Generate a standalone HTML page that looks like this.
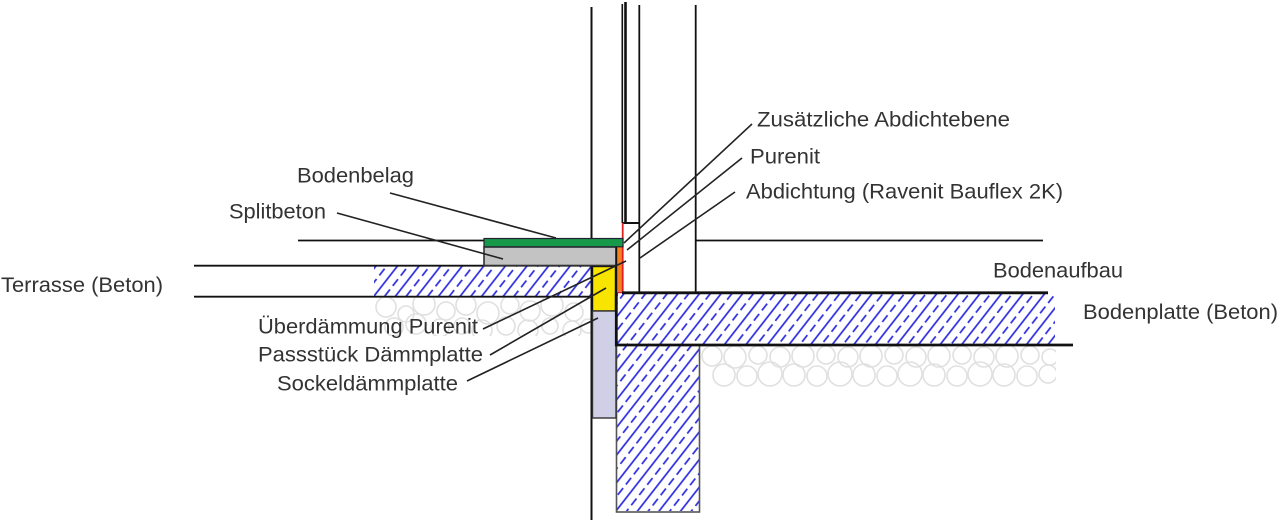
<!DOCTYPE html>
<html><head><meta charset="utf-8">
<style>
html,body{margin:0;padding:0;background:#fff;}
svg{display:block;}
text{font-family:"Liberation Sans",Arial,sans-serif;font-size:21.5px;fill:#333;}
</style></head><body>
<svg width="1280" height="522" viewBox="0 0 1280 522" xmlns="http://www.w3.org/2000/svg">
<defs>
<pattern id="h" patternUnits="userSpaceOnUse" width="17" height="13" patternTransform="rotate(38)">
<line x1="1" y1="-1" x2="1" y2="14" stroke="#2a2ae0" stroke-width="1.7"/>
<line x1="9.5" y1="1" x2="9.5" y2="9.5" stroke="#2a2ae0" stroke-width="1.7"/>
</pattern>
<clipPath id="g1"><rect x="372" y="298" width="219" height="38"/></clipPath>
<clipPath id="g2"><rect x="701" y="346" width="355" height="46"/></clipPath>
</defs>

<!-- gravel under terrace -->
<g clip-path="url(#g1)" fill="none" stroke="#e0e0e0" stroke-width="1.6">
<circle cx="386" cy="307" r="10"/><circle cx="406" cy="314" r="8"/><circle cx="424" cy="304" r="11"/>
<circle cx="446" cy="311" r="9"/><circle cx="466" cy="305" r="10"/><circle cx="488" cy="313" r="11"/>
<circle cx="510" cy="305" r="9"/><circle cx="530" cy="311" r="10"/><circle cx="552" cy="305" r="11"/>
<circle cx="574" cy="312" r="9"/><circle cx="394" cy="327" r="9"/><circle cx="416" cy="324" r="10"/>
<circle cx="440" cy="328" r="9"/><circle cx="462" cy="326" r="8"/><circle cx="482" cy="330" r="10"/>
<circle cx="506" cy="326" r="9"/><circle cx="528" cy="330" r="10"/><circle cx="550" cy="326" r="8"/>
<circle cx="572" cy="330" r="9"/><circle cx="588" cy="326" r="7"/>
</g>
<!-- gravel under slab -->
<g clip-path="url(#g2)" fill="none" stroke="#e0e0e0" stroke-width="1.6">
<circle cx="712" cy="356" r="10"/><circle cx="735" cy="357" r="11"/><circle cx="758" cy="355" r="9"/>
<circle cx="780" cy="357" r="10"/><circle cx="803" cy="356" r="11"/><circle cx="826" cy="355" r="9"/>
<circle cx="848" cy="357" r="10"/><circle cx="871" cy="356" r="11"/><circle cx="894" cy="355" r="9"/>
<circle cx="916" cy="357" r="10"/><circle cx="939" cy="356" r="11"/><circle cx="962" cy="355" r="9"/>
<circle cx="984" cy="357" r="10"/><circle cx="1007" cy="356" r="11"/><circle cx="1030" cy="355" r="9"/>
<circle cx="1050" cy="357" r="8"/>
<circle cx="724" cy="375" r="11"/><circle cx="747" cy="376" r="10"/><circle cx="770" cy="374" r="12"/>
<circle cx="794" cy="375" r="11"/><circle cx="817" cy="376" r="10"/><circle cx="840" cy="374" r="12"/>
<circle cx="864" cy="375" r="11"/><circle cx="887" cy="376" r="10"/><circle cx="910" cy="374" r="12"/>
<circle cx="934" cy="375" r="11"/><circle cx="957" cy="376" r="10"/><circle cx="980" cy="374" r="12"/>
<circle cx="1004" cy="375" r="11"/><circle cx="1027" cy="376" r="10"/><circle cx="1048" cy="374" r="9"/>
</g>

<!-- hatched concrete -->
<rect x="374" y="266" width="217" height="30" fill="url(#h)"/>
<rect x="617" y="294" width="438" height="50" fill="url(#h)"/>
<rect x="617" y="346" width="82" height="165" fill="url(#h)"/>

<!-- foundation outline -->
<rect x="616.5" y="345" width="83" height="167" fill="none" stroke="#555" stroke-width="1.6"/>

<!-- vertical wall lines -->
<line x1="591.5" y1="7" x2="591.5" y2="520" stroke="#111" stroke-width="2"/>
<line x1="622.3" y1="4" x2="622.3" y2="223" stroke="#111" stroke-width="1.6"/>
<line x1="625.5" y1="2" x2="625.5" y2="223" stroke="#111" stroke-width="2.6"/>
<line x1="639.3" y1="5" x2="639.3" y2="293" stroke="#111" stroke-width="1.8"/>
<line x1="695.7" y1="5" x2="695.7" y2="293" stroke="#111" stroke-width="1.8"/>
<line x1="622" y1="223" x2="640" y2="223" stroke="#111" stroke-width="2"/>

<!-- horizontal lines -->
<line x1="298" y1="240.5" x2="485" y2="240.5" stroke="#111" stroke-width="1.8"/>
<line x1="695" y1="240.5" x2="1043" y2="240.5" stroke="#111" stroke-width="1.8"/>
<line x1="194" y1="265.7" x2="592" y2="265.7" stroke="#111" stroke-width="1.8"/>
<line x1="194" y1="296.7" x2="592" y2="296.7" stroke="#111" stroke-width="1.8"/>

<!-- insulation pieces -->
<rect x="592.5" y="266.5" width="23" height="44.5" fill="#f7e400" stroke="#111" stroke-width="1.4"/>
<rect x="592.5" y="311" width="23.5" height="107" fill="#cfcfe6" stroke="#333" stroke-width="1.4"/>

<!-- orange strip and red seal -->
<rect x="616" y="247" width="6.3" height="44" fill="#f58220"/>
<polyline points="622.7,223 622.7,292.3 617,292.3 617,296" fill="none" stroke="#e02020" stroke-width="1.8"/>

<!-- splitbeton and bodenbelag -->
<rect x="484" y="247" width="132" height="18.5" fill="#c3c3c3" stroke="#333" stroke-width="1.6"/>
<rect x="484" y="238.5" width="139" height="8.3" fill="#17994a" stroke="#223" stroke-width="1.2"/>

<!-- slab outline -->
<line x1="616.3" y1="247" x2="616.3" y2="293" stroke="#111" stroke-width="1.8"/>
<line x1="616.3" y1="293" x2="616.3" y2="346" stroke="#111" stroke-width="2.8"/>
<line x1="622" y1="292.8" x2="1048" y2="292.8" stroke="#111" stroke-width="2.8"/>
<line x1="615" y1="345" x2="1073" y2="345" stroke="#111" stroke-width="2.8"/>

<!-- leader lines -->
<g stroke="#222" stroke-width="1.6" fill="none">
<line x1="390" y1="193" x2="556" y2="238"/>
<line x1="337" y1="213" x2="503" y2="259"/>
<line x1="483" y1="329" x2="626" y2="261"/>
<line x1="490" y1="355" x2="606" y2="288"/>
<line x1="467" y1="381" x2="598" y2="318"/>
<line x1="752" y1="124" x2="624" y2="243"/>
<line x1="742" y1="158" x2="627" y2="250"/>
<line x1="735" y1="192" x2="640" y2="258"/>
</g>

<!-- labels -->
<text x="1" y="292" textLength="162" lengthAdjust="spacingAndGlyphs">Terrasse (Beton)</text>
<text x="258" y="333.5" textLength="220" lengthAdjust="spacingAndGlyphs">Überdämmung Purenit</text>
<text x="258" y="361.7" textLength="225" lengthAdjust="spacingAndGlyphs">Passstück Dämmplatte</text>
<text x="277" y="390.7" textLength="181" lengthAdjust="spacingAndGlyphs">Sockeldämmplatte</text>
<text x="297" y="182.3" textLength="117" lengthAdjust="spacingAndGlyphs">Bodenbelag</text>
<text x="229" y="218.3" textLength="97" lengthAdjust="spacingAndGlyphs">Splitbeton</text>
<text x="757" y="126.7" textLength="253" lengthAdjust="spacingAndGlyphs">Zusätzliche Abdichtebene</text>
<text x="750" y="163.3" textLength="70" lengthAdjust="spacingAndGlyphs">Purenit</text>
<text x="746" y="198.3" textLength="317" lengthAdjust="spacingAndGlyphs">Abdichtung (Ravenit Bauflex 2K)</text>
<text x="993" y="277.7" textLength="130" lengthAdjust="spacingAndGlyphs">Bodenaufbau</text>
<text x="1083" y="319" textLength="195" lengthAdjust="spacingAndGlyphs">Bodenplatte (Beton)</text>
</svg>
</body></html>
